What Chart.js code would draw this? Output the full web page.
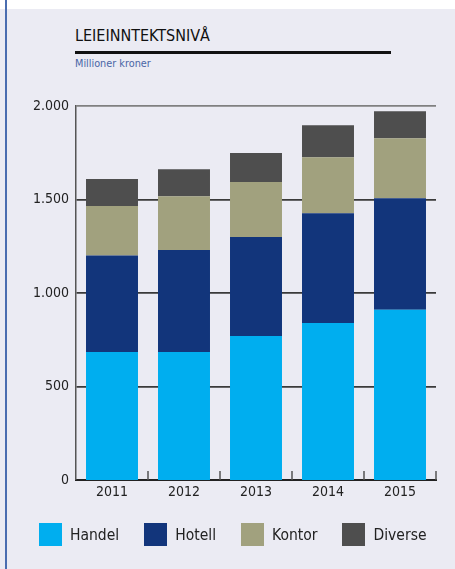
<!DOCTYPE html>
<html>
<head>
<meta charset="utf-8">
<script src="https://cdn.jsdelivr.net/npm/chart.js@4.4.1/dist/chart.umd.min.js"></script>
<style>
  html, body { margin: 0; padding: 0; background: #fff; }
  body { width: 455px; height: 569px; position: relative; overflow: hidden;
         font-family: "DejaVu Sans Condensed", "Liberation Sans", sans-serif; }
  .panel { position: absolute; left: 0; top: 9px; width: 455px; height: 560px; background: #ebebf3; }
  .edge { position: absolute; left: 5px; top: 0; width: 2px; height: 569px; background: #4a6db0; }
  .title { position: absolute; left: 75px; top: 28px; font-size: 16px; line-height: 1; color: #111; }
  .rule { position: absolute; left: 75px; top: 51px; width: 316px; height: 3px; background: #111; }
  .sub { position: absolute; left: 75px; top: 59px; font-size: 10.8px; line-height: 1; color: #4a66a6; }
  #chart { position: absolute; left: 0; top: 0; }
  #legend { position: absolute; left: 39px; top: 523px; height: 23px; display: flex; align-items: center; gap: 25px; }
  #legend .item { display: flex; align-items: center; font-size: 15.5px; color: #222; }
  #legend .box { width: 23px; height: 23px; margin-right: 8px; }
</style>
</head>
<body>
<div class="panel"></div>
<div class="edge"></div>
<div class="title">LEIEINNTEKTSNIVÅ</div>
<div class="rule"></div>
<div class="sub">Millioner kroner</div>
<canvas id="chart" width="455" height="569"></canvas>
<div id="legend"></div>
<script>
// data, millioner kroner
const years = ["2011", "2012", "2013", "2014", "2015"]
const handel = [685, 685, 770, 840, 910]
const hotell = [515, 545, 530, 587, 597]
const kontor = [265, 288, 294, 299, 321]
const diverse = [144, 144, 154, 171, 144]
const yTicks = [0, 500, 1000, 1500, 2000]

const FONT = "'DejaVu Sans Condensed', 'Liberation Sans', sans-serif"

// små tick-streker opp fra x-aksen mellom kategoriene
const categoryTicks = {
  id: "categoryTicks",
  afterDatasetsDraw(chart) {
    const { ctx, chartArea, scales: { x } } = chart
    ctx.save()
    ctx.strokeStyle = "#555"
    ctx.lineWidth = 1.5
    for (let i = 1; i <= years.length; i++) {
      const px = i < years.length
        ? (x.getPixelForTick(i - 1) + x.getPixelForTick(i)) / 2
        : chartArea.right
      ctx.beginPath()
      ctx.moveTo(px, chartArea.bottom)
      ctx.lineTo(px, chartArea.bottom - 9)
      ctx.stroke()
    }
    ctx.restore()
  }
}

// html-legende bygget fra datasettene
const htmlLegend = {
  id: "htmlLegend",
  afterUpdate(chart) {
    const el = document.getElementById("legend")
    el.innerHTML = ""
    chart.data.datasets.forEach(ds => {
      const item = document.createElement("div")
      item.className = "item"
      const box = document.createElement("span")
      box.className = "box"
      box.style.background = ds.backgroundColor
      item.appendChild(box)
      item.appendChild(document.createTextNode(ds.label))
      el.appendChild(item)
    })
  }
}

new Chart(document.getElementById("chart"), {
  type: "bar",
  data: {
    labels: years,
    datasets: [
      { label: "Handel", data: handel, backgroundColor: "#00aeef" },
      { label: "Hotell", data: hotell, backgroundColor: "#12357b" },
      { label: "Kontor", data: kontor, backgroundColor: "#a1a17e" },
      { label: "Diverse", data: diverse, backgroundColor: "#4e4e4e" }
    ]
  },
  options: {
    responsive: false,
    animation: false,
    layout: { padding: { top: 106, right: 19, bottom: 65, left: 0 } },
    datasets: { bar: { barPercentage: 1, categoryPercentage: 0.722 } },
    plugins: {
      tooltip: { enabled: false },
      legend: { display: false }
    },
    scales: {
      x: {
        stacked: true,
        afterFit: (s) => { s.height = 24 },
        grid: { display: false, drawTicks: false },
        border: { color: "#222", width: 2 },
        ticks: { color: "#222", padding: 4, font: { family: FONT, size: 14 } }
      },
      y: {
        stacked: true,
        min: 0,
        max: 2000,
        afterFit: (s) => { s.width = 76 },
        afterBuildTicks: (s) => { s.ticks = yTicks.map(v => ({ value: v })) },
        border: { color: "#555", width: 1.5 },
        grid: {
          drawTicks: false,
          color: (c) => c.tick && c.tick.value === 2000 ? "#808080" : "#3a3a3a",
          lineWidth: (c) => c.tick && c.tick.value === 0 ? 0 : 1.8
        },
        ticks: {
          color: "#222",
          padding: 7,
          font: { family: FONT, size: 14 },
          callback: (v) => String(v).replace(/\B(?=(\d{3})+(?!\d))/g, ".")
        }
      }
    }
  },
  plugins: [categoryTicks, htmlLegend]
})
</script>
</body>
</html>
